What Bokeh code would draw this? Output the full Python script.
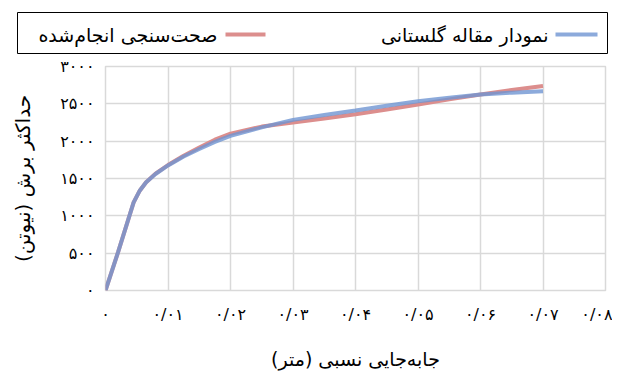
from bokeh.plotting import figure
from bokeh.layouts import column
from bokeh.models import Range1d, FixedTicker
from bokeh.core.properties import value
from bokeh.embed import file_html
from bokeh.resources import INLINE

# ---- data ----
disp = [0, 0.002, 0.0045, 0.0055, 0.0065, 0.008, 0.01, 0.0125, 0.015, 0.0175,
        0.02, 0.025, 0.03, 0.035, 0.04, 0.045, 0.05, 0.055, 0.06, 0.065, 0.07]
golestani = [0, 510, 1180, 1340, 1450, 1560, 1675, 1795, 1895, 1990,
             2070, 2185, 2285, 2350, 2410, 2475, 2535, 2580, 2625, 2650, 2670]
validation = [0, 510, 1180, 1340, 1450, 1565, 1680, 1805, 1915, 2020,
              2100, 2195, 2250, 2305, 2360, 2425, 2490, 2560, 2625, 2685, 2740]

x_ticks = [0, 0.01, 0.02, 0.03, 0.04, 0.05, 0.06, 0.07, 0.08]
x_tick_labels = ["۰", "۰/۰۱", "۰/۰۲", "۰/۰۳", "۰/۰۴", "۰/۰۵", "۰/۰۶", "۰/۰۷", "۰/۰۸"]
y_ticks = [0, 500, 1000, 1500, 2000, 2500, 3000]
y_tick_labels = ["۰", "۵۰۰", "۱۰۰۰", "۱۵۰۰", "۲۰۰۰", "۲۵۰۰", "۳۰۰۰"]

name_golestani = "نمودار مقاله گلستانی"
name_validation = "صحت\u200cسنجی انجام\u200cشده"
x_title = "جابه\u200cجایی نسبی (متر)"
y_title = "حداکثر برش (نیوتن)"

FONT = "DejaVu Sans"
RED = "#DC8E8D"
BLUE = "#6F95D2"
GRID = "#D9D9D9"

# ---- legend strip (right-to-left: text, then line sample), in pixel-like units ----
leg = figure(width=612, height=56, output_backend="svg", toolbar_location=None,
             x_range=Range1d(0, 590), y_range=Range1d(0, 41),
             min_border_left=17, min_border_right=5, min_border_top=12, min_border_bottom=3)
leg.axis.visible = False
leg.grid.visible = False
leg.outline_line_color = "black"
leg.outline_line_width = 1
leg.segment(x0=[208], y0=[19], x1=[248], y1=[19], line_color=RED, line_width=4)
leg.segment(x0=[538], y0=[19], x1=[580], y1=[19], line_color=BLUE, line_width=4, line_alpha=0.8)
leg.text(x=[200, 531], y=[19, 19], text=[name_validation, name_golestani],
         text_align="right", text_baseline="middle", text_font=value(FONT),
         text_font_size="19px", text_color="black")

# ---- main chart ----
p = figure(width=612, height=316, output_backend="svg", toolbar_location=None,
           x_range=Range1d(0, 0.08), y_range=Range1d(0, 3000),
           min_border_left=105, min_border_right=7, min_border_top=10, min_border_bottom=66)
p.outline_line_color = GRID
p.outline_line_width = 1.5

for fig in (leg, p):
    if "frame_align" in fig.properties():
        fig.frame_align = False

p.line(disp, validation, line_color=RED, line_width=4)
p.line(disp, golestani, line_color=BLUE, line_width=4, line_alpha=0.8)

p.xaxis.ticker = FixedTicker(ticks=x_ticks)
p.yaxis.ticker = FixedTicker(ticks=y_ticks)
p.xaxis.major_label_overrides = {t: l for t, l in zip(x_ticks, x_tick_labels)}
p.yaxis.major_label_overrides = {t: l for t, l in zip(y_ticks, y_tick_labels)}

for ax in (p.xaxis, p.yaxis):
    ax.axis_line_color = None
    ax.major_tick_line_color = None
    ax.minor_tick_line_color = None
    ax.major_label_text_font = FONT
    ax.major_label_text_font_size = "16px"
    ax.major_label_text_color = "black"
    ax.axis_label_text_font = FONT
    ax.axis_label_text_font_style = "normal"
    ax.axis_label_text_color = "black"

p.xaxis.axis_label_text_font_size = "19px"
p.yaxis.axis_label_text_font_size = "20px"
p.xaxis.major_label_standoff = 8
p.yaxis.major_label_standoff = 5
p.xaxis.axis_label = x_title
p.yaxis.axis_label = y_title
p.xaxis.axis_label_standoff = 21
p.yaxis.axis_label_standoff = 22

p.grid.grid_line_color = GRID
p.grid.grid_line_width = 1.5

layout = column(leg, p, spacing=0)
open("out.html", "w").write(file_html(layout, INLINE))
